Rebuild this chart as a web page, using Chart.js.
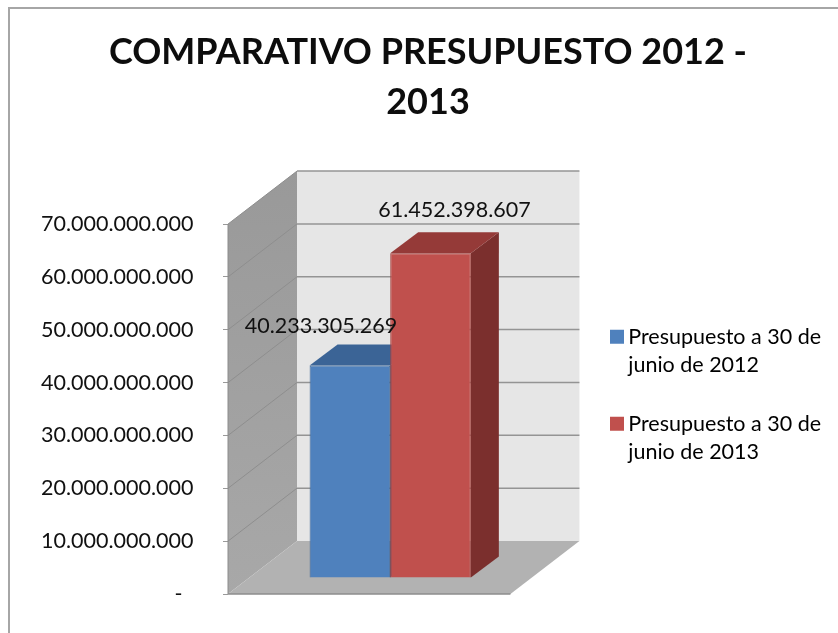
<!DOCTYPE html>
<html>
<head>
<meta charset="utf-8">
<style>
  html, body { margin: 0; padding: 0; background: #fff; }
  #wrap { width: 838px; height: 633px; }
</style>
<script src="https://cdn.jsdelivr.net/npm/chart.js@4"></script>
</head>
<body>
<div id="wrap"><canvas id="chart"></canvas></div>
<script>
const categories = ['Presupuesto'];
const seriesNames = [
    ['Presupuesto a 30 de', 'junio de 2012'],
    ['Presupuesto a 30 de', 'junio de 2013']
];
const valores2012 = [40233305269];
const valores2013 = [61452398607];
const chartTitle = ['COMPARATIVO PRESUPUESTO 2012 -', '2013'];

const FONT = 'Lato, "Open Sans", sans-serif';
const TEXT = '#111111';
const fmt = v => Math.round(v).toString().replace(/\B(?=(\d{3})+$)/g, '.');

// depth of the fake 3d box and of the bars, in pixels
const wall = { dx: 69, dy: 53 };
const barShift = { dx: 21, dy: 16 };
const barDepth = { dx: 28, dy: 21 };
const barFaces = [
    { top: '#3b6496', side: '#325680' },
    { top: '#953a38', side: '#7b2f2d' }
];
const labelNudge = [{ dx: -29, dy: -39 }, { dx: 24, dy: -43 }];

const poly = (ctx, pts, fill) => {
    ctx.beginPath();
    pts.forEach((p, i) => i ? ctx.lineTo(p[0], p[1]) : ctx.moveTo(p[0], p[1]));
    ctx.closePath();
    ctx.fillStyle = fill;
    ctx.fill();
};

const line = (ctx, x1, y1, x2, y2, color, width) => {
    ctx.beginPath();
    ctx.moveTo(x1, y1);
    ctx.lineTo(x2, y2);
    ctx.strokeStyle = color;
    ctx.lineWidth = width;
    ctx.stroke();
};

const box3d = {
    id: 'box3d',
    beforeDraw(chart) {
        // frame of the pasted picture, only top and left survive the crop
        const ctx = chart.ctx;
        line(ctx, 9, 8, 838, 8, '#a6a6a6', 2);
        line(ctx, 9, 7, 9, 633, '#a6a6a6', 2);
    },
    afterLayout(chart) {
        chart.legend.left = 585.5;
        chart.legend.right = 838;
        chart.legend.top += 100.5;
        chart.legend.bottom += 100.5;
    },
    beforeDatasetsDraw(chart) {
        const ctx = chart.ctx;
        const { left, right } = chart.chartArea;
        const y = chart.scales.y;
        const y0 = y.getPixelForValue(y.min);
        const yMax = y.getPixelForValue(y.max);

        poly(ctx, [[left + wall.dx, yMax - wall.dy], [right + wall.dx, yMax - wall.dy],
            [right + wall.dx, y0 - wall.dy], [left + wall.dx, y0 - wall.dy]], '#e6e6e6');

        const g = ctx.createLinearGradient(0, yMax - wall.dy, 0, y0);
        g.addColorStop(0, '#999999');
        g.addColorStop(1, '#a8a8a8');
        poly(ctx, [[left, yMax], [left + wall.dx, yMax - wall.dy],
            [left + wall.dx, y0 - wall.dy], [left, y0]], g);

        y.ticks.forEach(t => {
            const py = y.getPixelForValue(t.value);
            if (t.value > 0) {
                line(ctx, left + wall.dx, py - wall.dy, right + wall.dx, py - wall.dy, '#949494', 1.5);
                line(ctx, left, py, left + wall.dx, py - wall.dy, '#8e8e8e', 1);
            }
        });

        poly(ctx, [[left, y0], [right, y0], [right + wall.dx, y0 - wall.dy], [left + wall.dx, y0 - wall.dy]], '#b2b2b2');
        line(ctx, left, y0, right, y0, '#8c8c8c', 1.5);
        line(ctx, left, yMax, left, y0, '#8c8c8c', 1);

        ctx.save();
        ctx.translate(barShift.dx, -barShift.dy);

        // back faces go first, the library then paints the fronts over them
        chart.data.datasets.forEach((ds, i) => {
            chart.getDatasetMeta(i).data.forEach(bar => {
                const l = bar.x - bar.width / 2;
                const r = bar.x + bar.width / 2;
                const d = barDepth;
                poly(ctx, [[r, bar.y], [r + d.dx, bar.y - d.dy], [r + d.dx, bar.base - d.dy], [r, bar.base]], barFaces[i].side);
                poly(ctx, [[l, bar.y], [r, bar.y], [r + d.dx, bar.y - d.dy], [l + d.dx, bar.y - d.dy]], barFaces[i].top);
            });
        });
    },
    afterDatasetsDraw(chart) {
        const ctx = chart.ctx;
        ctx.restore();
        ctx.save();
        ctx.font = '21.5px ' + FONT;
        ctx.fillStyle = TEXT;
        ctx.textAlign = 'center';
        ctx.textBaseline = 'middle';
        chart.data.datasets.forEach((ds, i) => {
            chart.getDatasetMeta(i).data.forEach((bar, j) => {
                ctx.fillText(fmt(ds.data[j]),
                    bar.x + barShift.dx + labelNudge[i].dx,
                    bar.y - barShift.dy + labelNudge[i].dy);
            });
        });
        ctx.restore();
    }
};

new Chart(document.getElementById('chart'), {
    type: 'bar',
    data: {
        labels: categories,
        datasets: [
            { label: seriesNames[0].join(' '), data: valores2012, backgroundColor: '#4f81bd', borderColor: '#3f6797', borderWidth: 1, clip: false },
            { label: seriesNames[1].join(' '), data: valores2013, backgroundColor: '#c0504d', borderColor: '#a5433f', borderWidth: 1, clip: false }
        ]
    },
    plugins: [box3d],
    options: {
        responsive: true,
        maintainAspectRatio: false,
        animation: false,
        layout: { padding: { left: 18, right: 0, top: 0, bottom: 39 } },
        datasets: { bar: { barPercentage: 1, categoryPercentage: 0.571 } },
        scales: {
            x: { display: false },
            y: {
                min: 0,
                max: 70000000000,
                ticks: {
                    stepSize: 10000000000,
                    // tick padding also counts as room under the axis, so part of the gap is nbsp
                    padding: 24,
                    color: TEXT,
                    font: { family: FONT, size: 21.5 },
                    callback: v => v === 0 ? '-\u00a0\u00a0\u00a0' : fmt(v) + '\u00a0'
                },
                grid: { drawOnChartArea: false, tickLength: 5, color: '#999999' },
                border: { display: false },
                afterFit: s => { s.width = 210; }
            },
            // empty axis, keeps the room the back wall needs before the legend
            gap: {
                position: 'right',
                ticks: { display: false },
                grid: { display: false },
                border: { display: false },
                afterFit: s => { s.width = 82; }
            }
        },
        plugins: {
            tooltip: { enabled: false },
            title: {
                display: true,
                text: chartTitle,
                color: '#0d0d0d',
                font: { family: FONT, size: 36, weight: 'bold', lineHeight: 1.39 },
                padding: { top: 27, bottom: 97 }
            },
            legend: {
                position: 'right',
                maxWidth: 259,
                labels: {
                    // a 1px box with a fat stroke, so the text sits as close to the swatch as in the original
                    boxWidth: 1,
                    boxHeight: 1,
                    padding: 31,
                    color: TEXT,
                    font: { family: FONT, size: 21.5, lineHeight: 1.3 },
                    generateLabels: chart => chart.data.datasets.map((ds, i) => ({
                        text: seriesNames[i],
                        fillStyle: ds.backgroundColor,
                        strokeStyle: ds.backgroundColor,
                        lineWidth: 13,
                        datasetIndex: i
                    }))
                }
            }
        }
    }
});
</script>
</body>
</html>
